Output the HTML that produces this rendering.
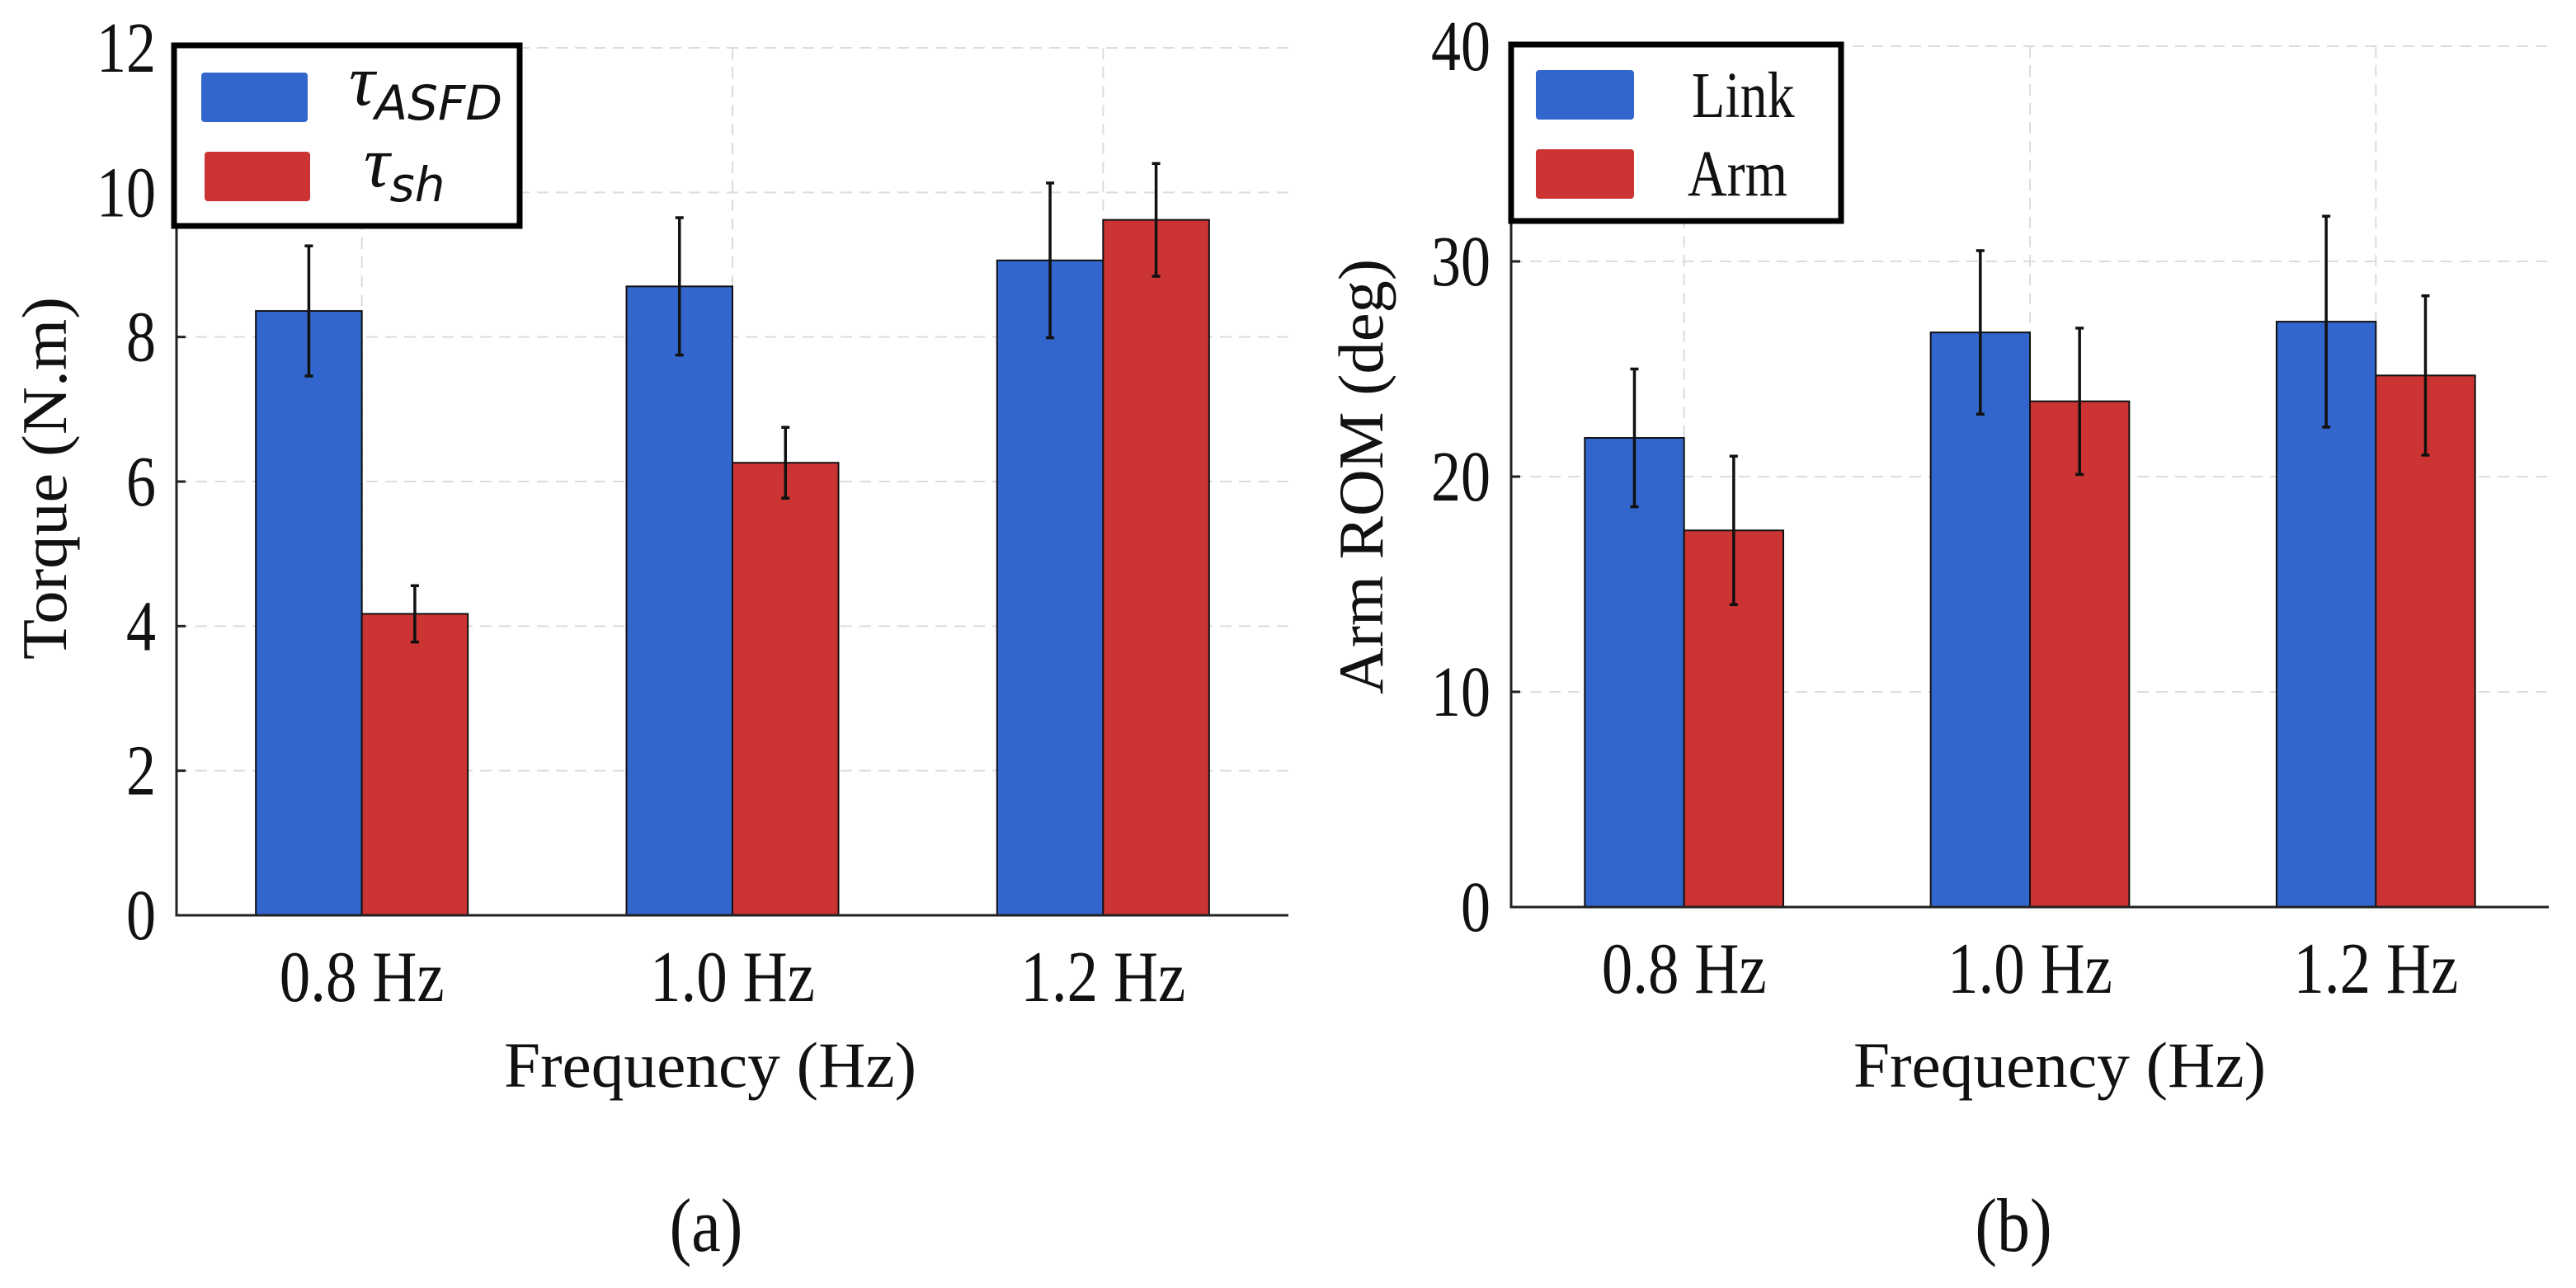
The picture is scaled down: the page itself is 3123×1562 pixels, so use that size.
<!DOCTYPE html>
<html><head><meta charset="utf-8"><style>
html,body{margin:0;padding:0;background:#fff;}
svg{display:block;}
text{font-family:"Liberation Serif",serif;fill:#111;}
</style></head><body>
<svg id="fig" width="3123" height="1562" viewBox="0 0 3123 1562" xmlns="http://www.w3.org/2000/svg">
<g id="chartA"></g>
<g id="chartB"></g>
</svg>
<script>
const categories = ["0.8 Hz", "1.0 Hz", "1.2 Hz"];
const torqueASFD = [8.36, 8.70, 9.06];
const torqueASFDErr = [0.90, 0.95, 1.07];
const torqueSh = [4.17, 6.26, 9.62];
const torqueShErr = [0.39, 0.49, 0.78];
const torqueTicks = [0, 2, 4, 6, 8, 10, 12];
const romLink = [21.8, 26.7, 27.2];
const romLinkErr = [3.2, 3.8, 4.9];
const romArm = [17.5, 23.5, 24.7];
const romArmErr = [3.45, 3.4, 3.7];
const romTicks = [0, 10, 20, 30, 40];

const NS = "http://www.w3.org/2000/svg";
function mk(parent, tag, attrs, txt) {
  const e = document.createElementNS(NS, tag);
  for (const k in attrs) e.setAttribute(k, attrs[k]);
  if (txt !== undefined) e.textContent = txt;
  parent.appendChild(e);
  return e;
}

function drawChart(g, cfg) {
  const L = cfg.left, R = cfg.right, T = cfg.top, B = cfg.bottom;
  const n = categories.length;
  const step = (R - L) / n;
  const xc = i => L + step * (i + 0.5);
  const y = v => B - (v - cfg.ymin) / (cfg.ymax - cfg.ymin) * (B - T);
  const bw = step * cfg.barFrac;

  cfg.ticks.forEach(t => {
    if (t === cfg.ymin) return;
    const l = mk(g, "line", {x1: L, x2: R, y1: y(t), y2: y(t), stroke: "#dcdcdc", "stroke-width": 2, "stroke-dasharray": "14 9"});
    
    
  });
  categories.forEach((c, i) => {
    const l = mk(g, "line", {x1: xc(i), x2: xc(i), y1: T, y2: B, stroke: "#dcdcdc", "stroke-width": 2, "stroke-dasharray": "14 9"});
    
    
  });

  const series = [
    {vals: cfg.s1, errs: cfg.s1e, color: "#3366CC", off: -1, name: cfg.s1name},
    {vals: cfg.s2, errs: cfg.s2e, color: "#CC3333", off: 0, name: cfg.s2name}
  ];
  series.forEach(s => {
    s.vals.forEach((v, i) => {
      const x0 = xc(i) + s.off * bw;
      const r = mk(g, "rect", {x: x0, y: y(v), width: bw, height: y(cfg.ymin) - y(v), fill: s.color, stroke: "#111", "stroke-width": 2});
      
      
    });
  });
  series.forEach(s => {
    s.vals.forEach((v, i) => {
      const cx = xc(i) + s.off * bw + bw / 2;
      const e = s.errs[i];
      const eg = mk(g, "g", {stroke: "#111", "stroke-width": 3.5});
      
      
      mk(eg, "line", {x1: cx, x2: cx, y1: y(v + e), y2: y(v - e)});
      mk(eg, "line", {x1: cx - 5, x2: cx + 5, y1: y(v + e), y2: y(v + e)});
      mk(eg, "line", {x1: cx - 5, x2: cx + 5, y1: y(v - e), y2: y(v - e)});
    });
  });

  const ax = mk(g, "path", {d: `M${L} ${T} L${L} ${B} L${R} ${B}`, fill: "none", stroke: "#222", "stroke-width": 3});
  
  
  cfg.ticks.forEach(t => {
    const tk = mk(g, "line", {x1: L, x2: L + 11, y1: y(t), y2: y(t), stroke: "#222", "stroke-width": 3});
    
    
  });

  cfg.ticks.forEach(t => {
    const tx = mk(g, "text", {x: 0, y: 0, "text-anchor": "end", "font-size": 72, transform: `translate(${L - 25},${y(t) + 29}) scale(1,1.2)`}, String(t));
    
    
  });
  categories.forEach((c, i) => {
    const tx = mk(g, "text", {x: 0, y: 0, "text-anchor": "middle", "font-size": 75, transform: `translate(${xc(i)},${cfg.xlabY}) scale(1,1.17)`}, c);
    
    
  });
  const xt = mk(g, "text", {x: 0, y: 0, "text-anchor": "middle", "font-size": 66, textLength: 500, lengthAdjust: "spacingAndGlyphs", transform: `translate(${cfg.xtitleX},1318) scale(1,1.18)`}, "Frequency (Hz)");
  
  
  const yt = mk(g, "text", {x: 0, y: 0, "text-anchor": "middle", "font-size": 64, textLength: cfg.ytitleLen, lengthAdjust: "spacingAndGlyphs", transform: `translate(${cfg.ytitleX},${cfg.ytitleY}) rotate(-90) scale(1,1.2)`}, cfg.ytitle);
  
  
  const pl = mk(g, "text", {x: 0, y: 0, "text-anchor": "middle", "font-size": 80, transform: `translate(${cfg.panelX},1517) scale(1,1.15)`}, cfg.panel);
  
  
}

const gA = document.getElementById("chartA");
drawChart(gA, {left: 214, right: 1562, top: 58, bottom: 1110, ymin: 0, ymax: 12, ticks: torqueTicks,
  barFrac: 0.286, s1: torqueASFD, s1e: torqueASFDErr, s2: torqueSh, s2e: torqueShErr, s1name: "asfd", s2name: "sh",
  xlabY: 1214, xtitleX: 861, ytitle: "Torque (N.m)", ytitleLen: 440, ytitleX: 80, ytitleY: 580, panel: "(a)", panelX: 856});

const gB = document.getElementById("chartB");
drawChart(gB, {left: 1832, right: 3090, top: 56, bottom: 1100, ymin: 0, ymax: 40, ticks: romTicks,
  barFrac: 0.287, s1: romLink, s1e: romLinkErr, s2: romArm, s2e: romArmErr, s1name: "link", s2name: "arm",
  xlabY: 1204, xtitleX: 2497, ytitle: "Arm ROM (deg)", ytitleLen: 528, ytitleX: 1676, ytitleY: 578, panel: "(b)", panelX: 2441});

function legend(g, box, items) {
  const lg = mk(g, "g", {});
  
  
  mk(lg, "rect", {x: box.x, y: box.y, width: box.w, height: box.h, fill: "#fff", stroke: "#000", "stroke-width": 7});
  items.forEach(it => {
    const e = mk(lg, "g", {});
    
    
    mk(e, "rect", {x: it.px, y: it.py, width: it.pw, height: 60, rx: 4, fill: it.color});
    if (it.sub) {
      const t = mk(e, "text", {x: it.tx, y: it.ty, "font-size": 88, "font-style": "italic", "font-family": "DejaVu Serif, serif"});
      mk(t, "tspan", {}, "τ");
      mk(t, "tspan", {"font-size": 58, dy: 18, "font-family": "DejaVu Sans, sans-serif"}, it.sub);
    } else {
      mk(e, "text", {x: 0, y: 0, "font-size": 66, transform: `translate(${it.tx},${it.ty}) scale(1,1.2)`}, it.label);
    }
  });
}
legend(gA, {x: 211, y: 55, w: 419, h: 219}, [
  {px: 244, py: 88, pw: 129, color: "#3366CC", tx: 423, ty: 127, sub: "ASFD"},
  {px: 248, py: 184, pw: 128, color: "#CC3333", tx: 441, ty: 226, sub: "sh"}
]);
legend(gB, {x: 1832, y: 54, w: 400, h: 214}, [
  {px: 1862, py: 85, pw: 119, color: "#3366CC", tx: 2051, ty: 142, label: "Link"},
  {px: 1862, py: 181, pw: 119, color: "#CC3333", tx: 2046, ty: 237, label: "Arm"}
]);
</script>
</body></html>
